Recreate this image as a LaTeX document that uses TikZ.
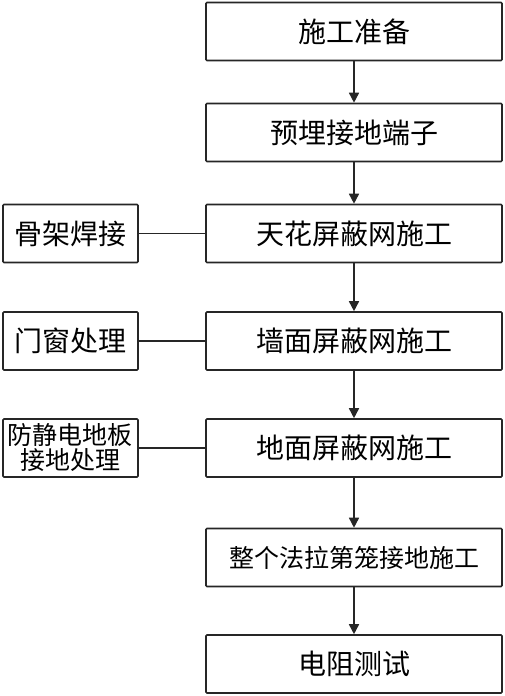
\documentclass[tikz,border=0pt]{standalone}
\usepackage{fontspec}
\setmainfont{Noto Sans CJK SC}
\usetikzlibrary{arrows.meta}
\begin{document}
\begin{tikzpicture}[x=1pt,y=1pt,
  mainbox/.style={draw=black!85, line width=1.6pt, rounded corners=1pt, minimum width=296pt, minimum height=58pt, inner sep=0pt, font=\fontsize{28}{28}\selectfont, fill=white},
  sidebox/.style={draw=black!85, line width=1.6pt, rounded corners=1pt, minimum width=135pt, minimum height=58pt, inner sep=0pt, font=\fontsize{28}{28}\selectfont, fill=white},
  flow/.style={draw=black!85, line width=1.6pt, -{Triangle[length=10pt,width=10pt]}},
  link/.style={draw=black!85, line width=1.6pt}]
\useasboundingbox (0,0) rectangle (504,-696);
\node[mainbox] (b1) at (354,-31.5) {施工准备};
\node[mainbox] (b2) at (354,-132.5) {预埋接地端子};
\node[mainbox] (b3) at (354,-233.5) {天花屏蔽网施工};
\node[mainbox] (b4) at (354,-341) {墙面屏蔽网施工};
\node[mainbox] (b5) at (354,-448) {地面屏蔽网施工};
\node[mainbox, font=\fontsize{25}{25}\selectfont] (b6) at (354,-557.5) {整个法拉第笼接地施工};
\node[mainbox] (b7) at (354,-664) {电阻测试};
\node[sidebox] (s1) at (70.5,-233.5) {骨架焊接};
\node[sidebox] (s2) at (70.5,-341) {门窗处理};
\node[sidebox, font=\fontsize{25}{25}\selectfont, align=center] (s3) at (70.5,-448) {防静电地板\\接地处理};
\draw[flow] (b1) -- (b2);
\draw[flow] (b2) -- (b3);
\draw[flow] (b3) -- (b4);
\draw[flow] (b4) -- (b5);
\draw[flow] (b5) -- (b6);
\draw[flow] (b6) -- (b7);
\draw[link] (s1) -- (b3);
\draw[link] (s2) -- (b4);
\draw[link] (s3) -- (b5);
\end{tikzpicture}
\end{document}
